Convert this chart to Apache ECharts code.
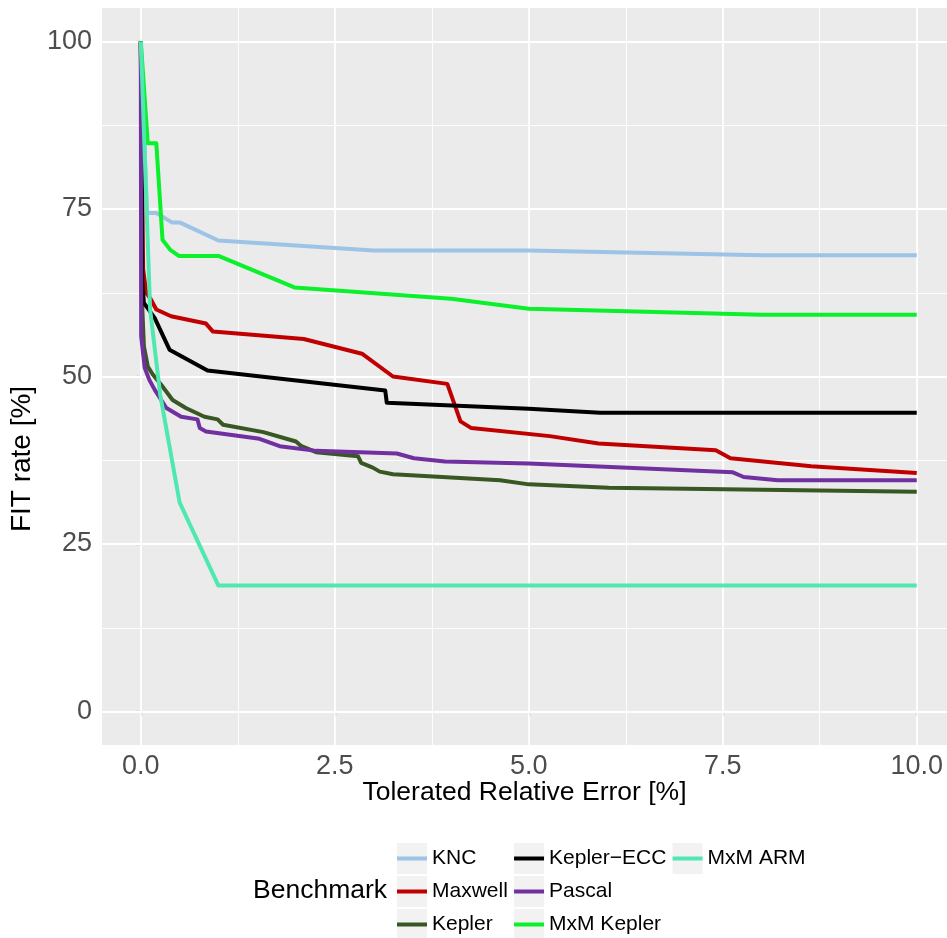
<!DOCTYPE html>
<html>
<head>
<meta charset="utf-8">
<script src="https://cdn.jsdelivr.net/npm/echarts@6/dist/echarts.min.js"></script>
<style>
html,body{margin:0;padding:0;background:#fff;}
#chart{width:947px;height:938px;}
</style>
</head>
<body>
<div id="chart"></div>
<script>
// ---- data ----
const seriesNames = ['KNC', 'Maxwell', 'Kepler', 'Kepler\u2212ECC', 'Pascal', 'MxM Kepler', 'MxM ARM'];
const seriesColors = ['#9DC3E6', '#C00000', '#385723', '#000000', '#7030A0', '#0CF02C', '#4FE8B0'];

const knc = [[0,100],[0.08,74.4],[0.2,74.4],[0.4,73.0],[0.5,73.0],[1.0,70.3],[3.0,68.8],[5.0,68.8],[8.0,68.1],[10,68.1]];
const maxwell = [[0,100],[0.03,66],[0.07,62.5],[0.13,61.5],[0.2,60.0],[0.39,59.0],[0.84,57.9],[0.93,56.7],[2.1,55.6],[2.85,53.4],[3.25,50.0],[3.95,48.9],[4.12,43.3],[4.26,42.3],[5.27,41.1],[5.9,40.0],[7.41,39.0],[7.6,37.8],[8.64,36.6],[10,35.6]];
const kepler = [[0,100],[0.02,60],[0.04,54.5],[0.09,51.5],[0.155,50.3],[0.26,48.8],[0.41,46.5],[0.58,45.3],[0.82,44.0],[0.99,43.6],[1.06,42.8],[1.58,41.7],[2.0,40.3],[2.07,39.6],[2.26,38.7],[2.8,38.1],[2.84,37.1],[2.99,36.4],[3.08,35.8],[3.25,35.4],[4.63,34.5],[5.0,33.9],[6.03,33.4],[10,32.8]];
const keplerEcc = [[0,100],[0.02,64],[0.04,61],[0.18,58.7],[0.37,54.0],[0.86,50.9],[3.15,47.9],[3.17,46.1],[5.0,45.2],[5.92,44.6],[10,44.6]];
const pascal = [[0,100],[0.005,56],[0.05,51.3],[0.11,49.5],[0.18,48.0],[0.33,45.3],[0.52,44.0],[0.73,43.6],[0.76,42.3],[0.84,41.8],[1.53,40.7],[1.79,39.6],[2.26,38.9],[3.3,38.5],[3.52,37.8],[3.92,37.3],[5.0,37.0],[7.63,35.7],[7.77,35.0],[8.21,34.5],[10,34.5]];
const mxmKepler = [[0,100],[0.09,84.8],[0.2,84.8],[0.28,70.4],[0.38,68.9],[0.49,68.0],[1.0,68.0],[1.98,63.3],[4.0,61.6],[5.0,60.1],[8.0,59.2],[10,59.2]];
const mxmArm = [[0,100],[0.12,60],[0.25,47.3],[0.5,31.2],[1.0,18.8],[10,18.8]];

const xMajor = [0, 2.5, 5, 7.5, 10];
const xMinor = [1.25, 3.75, 6.25, 8.75];
const yMajor = [0, 25, 50, 75, 100];
const yMinor = [12.5, 37.5, 62.5, 87.5];
const xTitle = 'Tolerated Relative Error [%]';
const yTitle = 'FIT rate [%]';
const legendTitle = 'Benchmark';

const allData = [knc, maxwell, kepler, keplerEcc, pascal, mxmKepler, mxmArm];

// ---- chart ----
const FONT = '"Liberation Sans", Arial, Helvetica, sans-serif';
const chart = echarts.init(document.getElementById('chart'), null, {renderer: 'canvas'});

const gridLines = [];
xMajor.forEach(v => gridLines.push({xAxis: v, lineStyle: {color: '#FFFFFF', width: 1.8, type: 'solid'}}));
xMinor.forEach(v => gridLines.push({xAxis: v, lineStyle: {color: '#FFFFFF', width: 0.9, type: 'solid'}}));
yMajor.forEach(v => gridLines.push({yAxis: v, lineStyle: {color: '#FFFFFF', width: 1.8, type: 'solid'}}));
yMinor.forEach(v => gridLines.push({yAxis: v, lineStyle: {color: '#FFFFFF', width: 0.9, type: 'solid'}}));

const series = [{
  name: '__grid',
  type: 'line',
  data: [],
  silent: true,
  z: 1,
  markLine: {
    silent: true,
    z: 1,
    symbol: ['none', 'none'],
    label: {show: false},
    emphasis: {disabled: true},
    animation: false,
    data: gridLines
  }
}];
seriesNames.forEach((n, i) => {
  series.push({
    name: n,
    type: 'line',
    data: allData[i],
    color: seriesColors[i],
    showSymbol: false,
    symbol: 'none',
    z: 2 + i,
    lineStyle: {width: 4, color: seriesColors[i], join: 'round', cap: 'butt'},
    emphasis: {disabled: true},
    animation: false
  });
});

const lineIcon = 'path://M0,0h0.01v0.01z M0,13.5h30v4h-30z M29.99,30.99h0.01v0.01z';

const legendBase = {
  data: seriesNames,
  orient: 'vertical',
  left: 397,
  top: 843,
  height: 100,
  padding: 0,
  itemWidth: 30,
  itemHeight: 31,
  itemGap: 2,
  selectedMode: false,
  inactiveColor: '#F2F2F2',
  formatter: name => name + '\u2009'
};

const option = {
  backgroundColor: '#FFFFFF',
  animation: false,
  textStyle: {fontFamily: FONT},
  title: {
    text: legendTitle,
    left: 253,
    top: 877,
    padding: 0,
    textStyle: {fontSize: 26.5, fontWeight: 'normal', color: '#000000', fontFamily: FONT}
  },
  grid: {
    left: 102,
    top: 8,
    width: 845,
    height: 737,
    show: true,
    backgroundColor: '#EBEBEB',
    borderWidth: 0,
    containLabel: false
  },
  xAxis: {
    type: 'value',
    min: -0.5,
    max: 10.39,
    splitLine: {show: false},
    axisLine: {show: false},
    axisTick: {show: true, customValues: xMajor, length: 5, lineStyle: {color: '#333333', width: 1.1}},
    axisLabel: {
      show: true,
      customValues: xMajor,
      formatter: v => Number(v).toFixed(1),
      fontSize: 27,
      color: '#4D4D4D',
      margin: 8,
      fontFamily: FONT
    },
    name: xTitle,
    nameLocation: 'middle',
    nameGap: 34,
    nameMoveOverlap: false,
    nameTextStyle: {fontSize: 26.5, color: '#000000', fontFamily: FONT}
  },
  yAxis: {
    type: 'value',
    min: -5,
    max: 105,
    splitLine: {show: false},
    axisLine: {show: false},
    axisTick: {show: true, customValues: yMajor, length: 5, lineStyle: {color: '#333333', width: 1.1}},
    axisLabel: {
      show: true,
      customValues: yMajor,
      fontSize: 27,
      color: '#4D4D4D',
      margin: 10,
      fontFamily: FONT
    },
    name: yTitle,
    nameLocation: 'middle',
    nameGap: 66,
    nameRotate: 90,
    nameMoveOverlap: false,
    nameTextStyle: {fontSize: 28, color: '#000000', fontFamily: FONT, padding: [0, 165, 0, 0]}
  },
  legend: [
    Object.assign({}, legendBase, {
      z: 3,
      icon: 'rect',
      itemStyle: {color: '#F2F2F2', borderWidth: 0},
      textStyle: {fontSize: 21, color: 'rgba(0,0,0,0)', fontFamily: FONT}
    }),
    Object.assign({}, legendBase, {
      z: 4,
      icon: lineIcon,
      itemStyle: {borderWidth: 0},
      textStyle: {fontSize: 21, color: '#000000', fontFamily: FONT}
    })
  ],
  series: series
};

chart.setOption(option);
</script>
</body>
</html>
